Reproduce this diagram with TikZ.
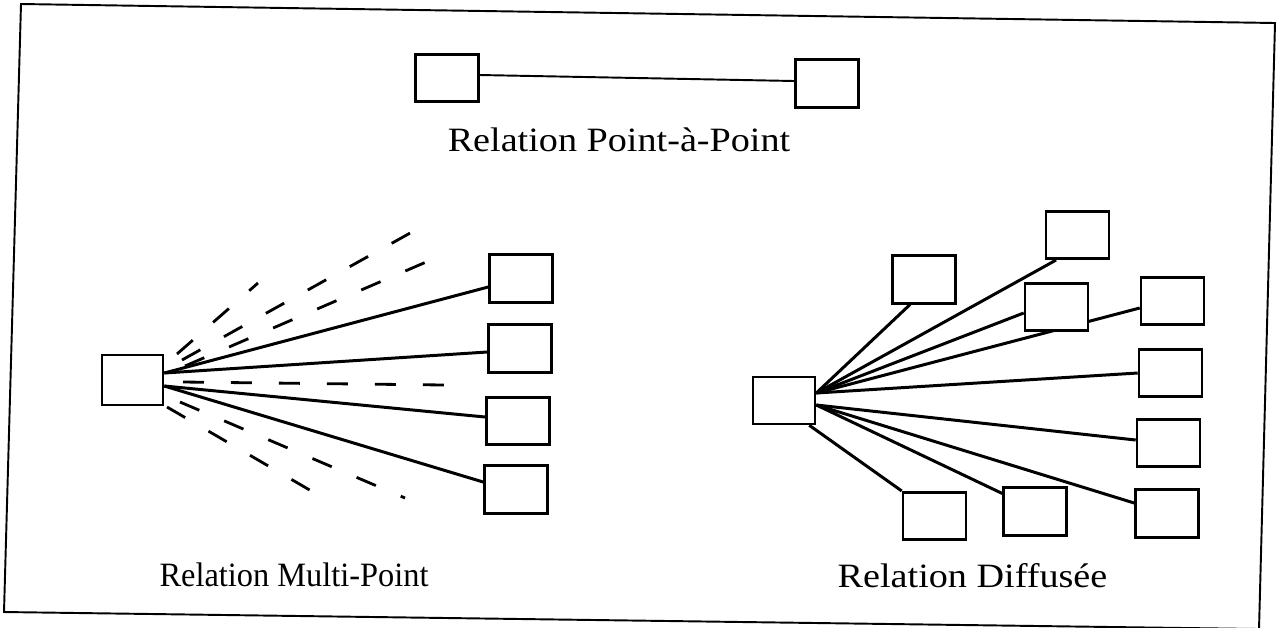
\documentclass[tikz,border=0pt]{standalone}
\usepackage{fontspec}
\setmainfont{Liberation Serif}
\newfontfamily\labelfont[FakeStretch=1.12]{Liberation Serif}
\newfontfamily\narrowfont[FakeStretch=0.95]{Liberation Serif}
\usepackage{tikz}
\usetikzlibrary{backgrounds}

\begin{document}
\begin{tikzpicture}[x=0.02cm, y=-0.02cm,
    box/.style={draw, line width=1.5pt, fill=white, inner sep=0pt,
      minimum width=1.26cm, minimum height=0.95cm},
    link/.style={line width=1.7pt},
    maybe/.style={line width=1.6pt, dash pattern=on 0.42cm off 0.54cm},
    caption/.style={font=\labelfont\fontsize{19.4}{22}\selectfont, anchor=base}]
  \useasboundingbox (0,0) rectangle (1283,627);
  \clip (0,0) rectangle (1283,627);

  % Frame
  \draw[line width=1.1pt] (21,4) -- (1275,23) -- (1259,629) -- (4,612) -- cycle;

  % Point-a-point
  \node[box] (pa) at (447,78) {};
  \node[box] (pb) at (827,83.5) {};
  \draw[line width=1.1pt] ([yshift=0.06cm]pa.east) -- ([yshift=0.05cm]pb.west);
  \node[caption] (tpp) at (619,151) {Relation Point-à-Point};

  % Multi-point
  \node[box, minimum width=1.22cm, minimum height=1cm] (mh) at (132.5,380) {};
  \node[box] (m1) at (521,278.5) {};
  \node[box] (m2) at (520,348.5) {};
  \node[box] (m3) at (518,421) {};
  \node[box] (m4) at (516,489.5) {};
  \draw[link] ([yshift=0.14cm]mh.east) -- ([yshift=-0.17cm]m1.west);
  \draw[link] ([yshift=0.14cm]mh.east) -- ([yshift=-0.07cm]m2.west);
  \draw[link] ([yshift=-0.12cm]mh.east) -- ([yshift=0.08cm]m3.west);
  \draw[link] ([yshift=-0.12cm]mh.east) -- ([yshift=0.15cm]m4.west);

  % unused links
  \coordinate (ma0) at (177,354); \coordinate (ma) at (258,283);
  \coordinate (mb0) at (182,360); \coordinate (mb) at (412,232);
  \coordinate (mc0) at (185,366); \coordinate (mc) at (447,253);
  \coordinate (md0) at (183,382); \coordinate (md) at (445,385);
  \coordinate (me0) at (167,407); \coordinate (me) at (332,503);
  \coordinate (mf0) at (180,402); \coordinate (mf) at (405,498);
  \foreach \l in {ma,mb,mc,md,me,mf}
    \draw[maybe] (\l0) -- (\l);
  \node[caption, font=\narrowfont\fontsize{19.4}{22}\selectfont] (tmp) at (294,586) {Relation Multi-Point};

  % Diffusee
  \node[box, minimum width=1.24cm, minimum height=0.94cm] (dh) at (784,400.5) {};
  \node[box] (d1) at (924,279.5) {};
  \node[box] (d2) at (1077.5,235) {};
  \node[box] (d3) at (1056.5,307) {};
  \node[box] (d4) at (1172.5,301) {};
  \node[box] (d5) at (1170.5,373) {};
  \node[box] (d6) at (1168.5,443) {};
  \node[box] (d7) at (1167,513.5) {};
  \node[box] (d8) at (934.5,516) {};
  \node[box] (d9) at (1035,511.5) {};
  \begin{scope}[on background layer]
    \draw[link] ([yshift=0.15cm]dh.east) -- ([xshift=-0.28cm]d1.south);
    \draw[link] ([yshift=0.15cm]dh.east) -- ([xshift=-0.43cm]d2.south);
    \draw[link] ([yshift=0.15cm]dh.east) -- ([yshift=-0.12cm]d3.west);
    \draw[link] ([yshift=0.15cm]dh.east) -- ([yshift=-0.14cm]d4.west);
    \draw[link] ([yshift=0.15cm]dh.east) -- (d5.west);
    \draw[link] ([yshift=-0.09cm]dh.east) -- ([yshift=0.06cm]d6.west);
    \draw[link] ([yshift=-0.09cm]dh.east) -- ([yshift=0.21cm]d7.west);
    \draw[link] ([xshift=-0.14cm]dh.south east) -- (d8.north west);
    \draw[link] ([yshift=-0.09cm]dh.east) -- ([yshift=-0.14cm]d9.north west);
  \end{scope}
  \node[caption] (tdf) at (972.5,587) {Relation Diffusée};
\end{tikzpicture}
\end{document}
